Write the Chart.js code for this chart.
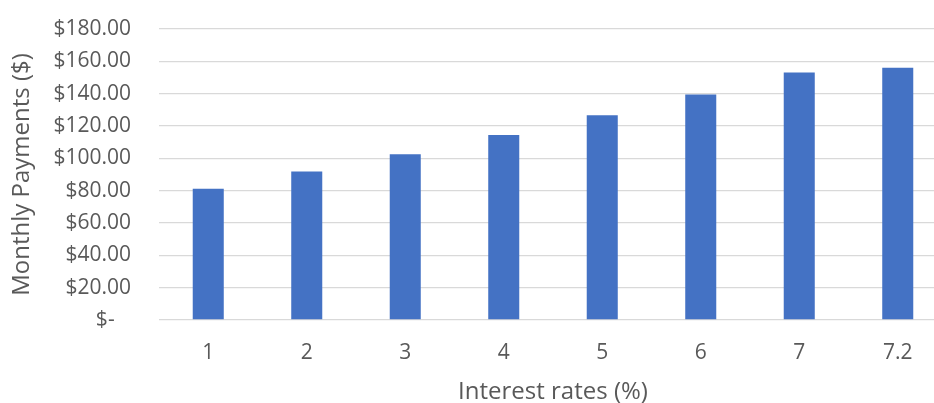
<!DOCTYPE html>
<html>
<head>
<meta charset="utf-8">
<script src="https://cdn.jsdelivr.net/npm/chart.js@4"></script>
<style>
  html, body { margin: 0; padding: 0; background: #fff; overflow: hidden; }
  #wrap { width: 934px; height: 403px; overflow: hidden; }
</style>
</head>
<body>
<div id="wrap"><canvas id="chart" width="960" height="403"></canvas></div>
<script>
// Interest rate categories and monthly payment per rate
const rates = ['1', '2', '3', '4', '5', '6', '7', '7.2'];
const payments = [81.2, 91.9, 102.5, 114.5, 126.6, 139.5, 153.1, 156.0];
const yTicks = [0, 20, 40, 60, 80, 100, 120, 140, 160, 180];

const textColor = '#595959';
const fontFamily = '"Open Sans", "Liberation Sans", sans-serif';

const ctx = document.getElementById('chart').getContext('2d');
new Chart(ctx, {
  type: 'bar',
  data: {
    labels: rates,
    datasets: [{
      label: 'Monthly Payments',
      data: payments,
      backgroundColor: '#4472C4',
      borderWidth: 0,
      barPercentage: 0.315,
      categoryPercentage: 1
    }]
  },
  options: {
    responsive: false,
    animation: false,
    devicePixelRatio: 1,
    layout: {
      padding: { left: 0, right: 13, top: 29, bottom: 0 }
    },
    plugins: {
      legend: { display: false },
      tooltip: { enabled: false }
    },
    scales: {
      x: {
        grid: { display: false, drawTicks: false },
        border: { display: false },
        ticks: {
          color: textColor,
          font: { family: fontFamily, size: 21 },
          padding: 20
        },
        title: {
          display: true,
          text: 'Interest rates (%)',
          color: textColor,
          font: { family: fontFamily, size: 24 },
          padding: { top: 0, bottom: -4 }
        },
        afterFit: axis => { axis.height = 83; }
      },
      y: {
        min: 0,
        max: 180,
        afterBuildTicks: axis => { axis.ticks = yTicks.map(v => ({ value: v })); },
        // invisible tick marks give the gap between labels and plot
        grid: { color: '#d9d9d9', lineWidth: 1.3, drawTicks: true, tickLength: 28, tickColor: 'rgba(0,0,0,0)' },
        border: { display: false },
        ticks: {
          color: textColor,
          font: { family: fontFamily, size: 21 },
          padding: 0,
          callback: v => v === 0 ? '$-   ' : '$' + v.toFixed(2)
        },
        title: {
          display: true,
          text: 'Monthly Payments ($)',
          color: textColor,
          font: { family: fontFamily, size: 24 },
          padding: { top: 8, bottom: 0 }
        },
        afterFit: axis => { axis.width = 159; }
      }
    }
  }
});
</script>
</body>
</html>
